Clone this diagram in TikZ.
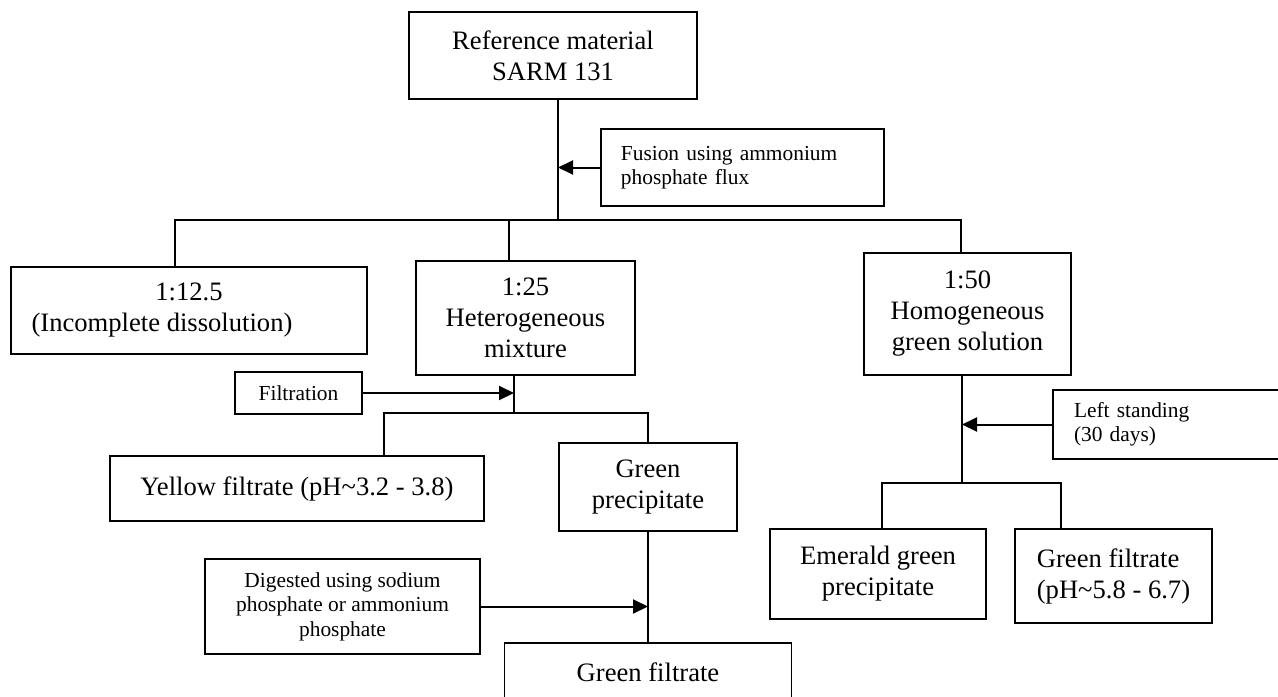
\documentclass[tikz,border=0pt]{standalone}
\usepackage{fontspec}
\setmainfont{Liberation Serif}
\usepackage{tikz}
\usetikzlibrary{positioning,arrows.meta}
\tikzset{
	stage/.style={draw=black, line width=0.9pt, align=center, inner sep=0pt, font=\fontsize{13.3}{15.5}\selectfont},
	note/.style={draw=black, line width=0.9pt, inner sep=0pt, font=\fontsize{10.7}{12.2}\selectfont},
	branch/.style={draw=black, line width=0.9pt},
	feed/.style={draw=black, line width=1pt, -{Triangle[length=7.5pt,width=7pt]}}
}

\begin{document}
\begin{tikzpicture}[x=0.5pt, y=-0.5pt]
	\useasboundingbox (0,0) rectangle (1278,696);
	\clip (0,0) rectangle (1278,696);

	% first stage
	\node[stage, minimum width=144pt, minimum height=43.5pt] (ref) at (553,55.5) {Reference material\\SARM 131};
	\node[note, anchor=west, minimum height=38.5pt, inner xsep=10pt, text width=121.5pt, align=left] (fus) at (600,167.5) {Fusion using ammonium\\phosphate flux};

	\node[stage, minimum width=178pt, minimum height=43.5pt] (r12) at (189,310.5) {1:12.5\\(Incomplete dissolution)\hspace*{27pt}};
	\node[stage, minimum width=109.5pt, minimum height=57pt] (r25) at (525.5,318) {1:25\\Heterogeneous\\mixture};
	\node[stage, minimum width=103.5pt, minimum height=61pt] (r50) at (967.5,314) {1:50\\Homogeneous\\green solution};

	\coordinate (b1l) at (175,220);
	\coordinate (b1) at (558,220);
	\coordinate (b1m) at (509,220);
	\coordinate (b1r) at (961,220);

	\draw[branch] (b1 |- ref.south) -- (b1);
	\draw[feed] (fus.west) -- (fus.west -| b1);
	\draw[branch] (b1l |- r12.north) -- (b1l) -- (b1r) -- (b1r |- r50.north);
	\draw[branch] (b1m) -- (b1m |- r25.north);

	% 1:25 branch
	\node[note, minimum width=63.5pt, minimum height=21pt, align=center] (filt) at (298.5,393) {Filtration};
	\node[stage, minimum width=187pt, minimum height=32.5pt] (yel) at (297,488.5) {Yellow filtrate (pH\textasciitilde3.2 - 3.8)};
	\node[stage, minimum width=89pt, minimum height=44pt] (gpre) at (648,487) {Green\\precipitate};
	\node[note, minimum width=137.5pt, minimum height=47.5pt, align=center] (dig) at (342.5,606.5) {Digested using sodium\\phosphate or ammonium\\phosphate};
	\node[stage, minimum width=143.5pt, minimum height=29pt] (gfil) at (648,672) {Green filtrate};

	\coordinate (b2l) at (384,413);
	\coordinate (b2m) at (514,413);

	\draw[branch] (b2m |- r25.south) -- (b2m);
	\draw[feed] (filt.east) -- (filt.east -| b2m);
	\draw[branch] (b2l |- yel.north) -- (b2l) -- (b2m -| gpre.north) -- (gpre.north);
	\draw[branch] (gpre.south) -- (gfil.north);
	\draw[feed] (dig.east) -- (dig.east -| gpre.south);

	% 1:50 branch
	\node[note, minimum width=118.5pt, minimum height=34.5pt, inner xsep=10.5pt, text width=97.5pt, align=left] (stand) at (1171.5,424.5) {Left standing\\(30 days)};
	\node[stage, minimum width=108pt, minimum height=45pt] (emer) at (878,574) {Emerald green\\precipitate};
	\node[stage, minimum width=98.5pt, minimum height=47pt, align=left] (gfil2) at (1113.5,576) {Green filtrate\\(pH\textasciitilde5.8 - 6.7)};

	\coordinate (b3l) at (882,483);
	\coordinate (b3m) at (962,483);
	\coordinate (b3r) at (1061,483);

	\draw[branch] (b3m |- r50.south) -- (b3m);
	\draw[feed] (stand.west) -- (stand.west -| b3m);
	\draw[branch] (b3l |- emer.north) -- (b3l) -- (b3r) -- (b3r |- gfil2.north);
\end{tikzpicture}
\end{document}
